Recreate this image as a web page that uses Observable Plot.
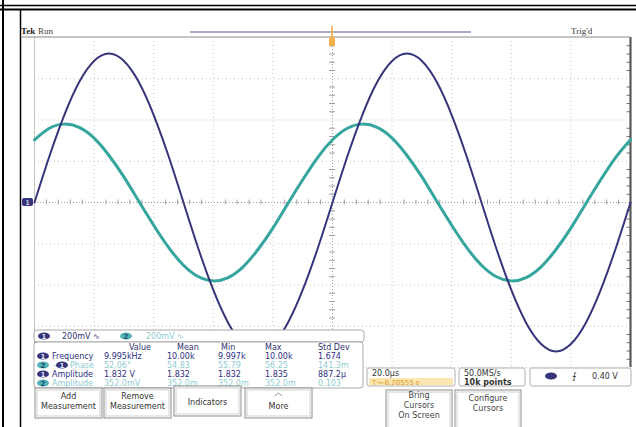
<!DOCTYPE html>
<html><head><meta charset="utf-8">
<script src="https://cdn.jsdelivr.net/npm/d3@7"></script>
<script src="https://cdn.jsdelivr.net/npm/@observablehq/plot@0.6"></script>
<style>body{margin:0;background:#fff;} #chart{width:636px;height:427px;overflow:hidden;}</style>
</head><body><div id="chart"></div>
<script>
// Time base: microseconds (20 µs/div), vertical: divisions
const time = [-100,-95,-90,-85,-80,-75,-70,-65,-60,-55,-50,-45,-40,-35,-30,-25,-20,-15,-10,-5,0,5,10,15,20,25,30,35,40,45,50,55,60,65,70,75,80,85,90,95,100];
const ch1 = [0,1.12,2.12,2.92,3.43,3.61,3.43,2.92,2.12,1.12,0,-1.12,-2.12,-2.92,-3.43,-3.61,-3.43,-2.92,-2.12,-1.12,
             0,1.12,2.12,2.92,3.43,3.61,3.43,2.92,2.12,1.12,0,-1.12,-2.12,-2.92,-3.43,-3.61,-3.43,-2.92,-2.12,-1.12,0];
const ch2 = [1.52,1.80,1.90,1.82,1.56,1.14,0.62,0.03,-0.55,-1.09,-1.52,-1.80,-1.90,-1.82,-1.56,-1.14,-0.62,-0.03,0.55,1.09,
             1.52,1.80,1.90,1.82,1.56,1.14,0.62,0.03,-0.55,-1.09,-1.52,-1.80,-1.90,-1.82,-1.56,-1.14,-0.62,-0.03,0.55,1.09,1.52];
const gridT = [-80,-60,-40,-20,20,40,60,80];
const gridV = [-4,-3,-2,-1,1,2,3];
const minorT = [-96,-92,-88,-84,-76,-72,-68,-64,-56,-52,-48,-44,-36,-32,-28,-24,-16,-12,-8,-4,4,8,12,16,24,28,32,36,44,48,52,56,64,68,72,76,84,88,92,96];
const minorV = [-3.8,-3.6,-3.4,-3.2,-2.8,-2.6,-2.4,-2.2,-1.8,-1.6,-1.4,-1.2,-0.8,-0.6,-0.4,-0.2,0.2,0.4,0.6,0.8,1.2,1.4,1.6,1.8,2.2,2.4,2.6,2.8,3.2,3.4,3.6,3.8];

const chScale = ["200mV ∿", "200mV ∿"];
const measHeaders = ["Value", "Mean", "Min", "Max", "Std Dev"];
const measNames = ["Frequency", "Phase", "Amplitude", "Amplitude"];
const measValue = ["9.995kHz", "52.06°", "1.832 V", "352.0mV"];
const measMean = ["10.00k", "54.83", "1.832", "352.0m"];
const measMin = ["9.997k", "55.79", "1.832", "352.0m"];
const measMax = ["10.00k", "56.25", "1.835", "352.0m"];
const measStd = ["1.674", "141.3m", "887.2µ", "0.103"];
const buttons = [["Add", "Measurement"], ["Remove", "Measurement"], ["Indicators"], ["More"]];
const cursorButtons = [["Bring", "Cursors", "On Screen"], ["Configure", "Cursors"]];
const horizInfo = ["20.0µs", "T→-6.20555 s"];
const acqInfo = ["50.0MS/s", "10k points"];
const trigInfo = "0.40 V";

const C1 = "#37357a", C2 = "#35a59e";

const plot = Plot.plot({
  width: 636, height: 427,
  marginLeft: 34, marginRight: 6, marginTop: 37, marginBottom: 60,
  x: {domain: [-100, 100], axis: null},
  y: {domain: [-4, 4], axis: null},
  style: {background: "#fff", overflow: "visible"},
  marks: [
    Plot.ruleX(gridT, {stroke: "#c2c2c2", strokeDasharray: "1,3"}),
    Plot.ruleY(gridV, {stroke: "#c2c2c2", strokeDasharray: "1,3"}),
    Plot.ruleY([0], {stroke: "#a0a0a0", strokeDasharray: "1,2"}),
    Plot.ruleX([0], {stroke: "#a0a0a0", strokeDasharray: "1,2"}),
    Plot.ruleX(minorT, {y1: -0.06, y2: 0.06, stroke: "#a0a0a0"}),
    Plot.ruleY(minorV, {x1: -1, x2: 1, stroke: "#a0a0a0"}),
    Plot.ruleY(minorV, {x1: 98.8, x2: 100, stroke: "#777"}),
    Plot.ruleX([-100], {stroke: "#c4c4c4"}),
    Plot.ruleX([100], {stroke: "#5a5a5a", strokeWidth: 2.2}),
    Plot.line(time, {x: d => d, y: (d, i) => ch2[i], stroke: C2, strokeWidth: 3, curve: "natural"}),
    Plot.line(time, {x: d => d, y: (d, i) => ch1[i], stroke: C1, strokeWidth: 2, curve: "natural"})
  ]
});
document.getElementById("chart").appendChild(plot);

const svg = d3.select(plot);
const ui = svg.append("g").attr("font-family", "DejaVu Sans, Liberation Sans, sans-serif");
function L(x1, y1, x2, y2, stroke, w) {
  ui.append("line").attr("x1", x1).attr("y1", y1).attr("x2", x2).attr("y2", y2)
    .attr("stroke", stroke).attr("stroke-width", w || 1);
}
function R(x, y, w, h, o) {
  o = o || {};
  ui.append("rect").attr("x", x).attr("y", y).attr("width", w).attr("height", h)
    .attr("rx", o.rx || 0).attr("fill", o.fill || "#fff").attr("stroke", o.stroke || "none")
    .attr("stroke-width", o.sw || 1);
}
function T(x, y, s, o) {
  o = o || {};
  ui.append("text").attr("x", x).attr("y", y).text(s)
    .attr("font-size", o.size || 8).attr("fill", o.fill || "#333")
    .attr("font-weight", o.weight || "normal")
    .attr("text-anchor", o.anchor || "start")
    .attr("font-family", o.family || null);
}
function pill(cx, cy, label, fill, tfill) {
  ui.append("ellipse").attr("cx", cx).attr("cy", cy).attr("rx", 6).attr("ry", 3.6).attr("fill", fill);
  T(cx, cy + 2.6, label, {size: 7, fill: tfill, anchor: "middle", weight: "bold"});
}

// outer document frame
L(0, 5.5, 636, 5.5, "#000", 1.5);
L(0, 9.5, 636, 9.5, "#000", 2.2);
L(3, 0, 3, 427, "#000", 2);
L(20.5, 10, 20.5, 427, "#000", 1.5);

// status line
T(21, 34, "Tek", {size: 9, weight: "bold", fill: "#222", family: "Liberation Serif, serif"});
T(38, 34, "Run", {size: 9, fill: "#444", family: "Liberation Serif, serif"});
T(571, 34, "Trig'd", {size: 9, fill: "#333", family: "Liberation Serif, serif"});
L(190, 32, 471, 32, "#8c90ad", 1.3);
L(22, 37, 630, 37, "#8a8a8a", 1.2);
// trigger position marker
L(332, 26, 332, 38, "#f0a63a", 1.5);
R(329, 37, 6, 9, {fill: "#f3b04a", rx: 1.5});
// ground marker ch1
R(22, 198, 11, 8, {fill: C1, rx: 2});
T(27.5, 204.5, "1", {size: 6.5, fill: "#cfd0ee", anchor: "middle", weight: "bold"});

// channel scale row
R(34, 330, 330, 12, {rx: 3, stroke: "#a9a9a9"});
pill(44, 336, "1", C1, "#dfe0f5");
T(62, 339, chScale[0], {fill: "#2e2f70"});
pill(126, 336, "2", "#53b3b8", "#1c4e66");
T(146, 339, chScale[1], {fill: "#8fcbd2"});

// measurement table
R(34, 342, 329, 46, {rx: 3, stroke: "#a9a9a9"});
const colX = [104, 167, 218, 265, 318];
const hdrX = [129, 177, 221, 265, 318];
measHeaders.forEach((h, i) => T(hdrX[i], 350, h, {fill: "#2e2f70"}));
const rowY = [359, 368, 377, 386];
const rowFill = ["#2d3080", "#8fcbd2", "#2d3080", "#8fcbd2"];
measNames.forEach((n, r) => {
  const y = rowY[r];
  if (r === 1) {
    pill(43, y - 3, "2", "#53b3b8", "#1c4e66");
    T(52, y, "→", {size: 7, fill: "#8fcbd2"});
    pill(62, y - 3, "1", C1, "#dfe0f5");
    T(70, y, n, {fill: rowFill[r]});
  } else {
    const two = r === 3;
    pill(43, y - 3, two ? "2" : "1", two ? "#53b3b8" : C1, two ? "#1c4e66" : "#dfe0f5");
    T(52, y, n, {fill: rowFill[r]});
  }
  [measValue, measMean, measMin, measMax, measStd].forEach((col, c) =>
    T(colX[c], y, col[r], {fill: rowFill[r]}));
});

// softkey buttons
const bx = [35, 104, 174, 245];
buttons.forEach((lines, i) => {
  const x = bx[i], w = 67;
  const top = i === 2 ? 386 : 388;
  R(x, top, w, 30, {stroke: "#8d8d8d"});
  R(x + 2, top + 2, w - 4, 26, {stroke: "#d0d0d0"});
  if (lines.length === 2) {
    T(x + w / 2, 399, lines[0], {anchor: "middle", fill: "#333"});
    T(x + w / 2, 409, lines[1], {anchor: "middle", fill: "#333"});
  } else if (i === 3) {
    L(x + w / 2 - 4, 396, x + w / 2, 393, "#999", 1);
    L(x + w / 2, 393, x + w / 2 + 4, 396, "#999", 1);
    T(x + w / 2, 409, lines[0], {anchor: "middle", fill: "#333"});
  } else {
    T(x + w / 2, 405, lines[0], {anchor: "middle", fill: "#333"});
  }
});
const cbx = [386, 455];
cursorButtons.forEach((lines, i) => {
  const x = cbx[i], w = 66;
  R(x, 390, w, 40, {stroke: "#8d8d8d"});
  R(x + 2, 392, w - 4, 38, {stroke: "#d0d0d0"});
  const y0 = lines.length === 3 ? 398 : 401;
  lines.forEach((s, j) => T(x + w / 2, y0 + j * 10, s, {anchor: "middle", fill: "#444"}));
});

// horizontal / acquisition / trigger readouts
R(367, 368, 88, 18, {rx: 2, stroke: "#b0b0b0"});
T(372, 376, horizInfo[0], {fill: "#333"});
R(369, 378, 84, 7, {fill: "#fbe6b0"});
T(372, 384.5, horizInfo[1], {fill: "#e09a2a", size: 7});
R(459, 368, 66, 18, {rx: 2, stroke: "#b0b0b0"});
T(464, 376, acqInfo[0], {fill: "#333"});
T(464, 385, acqInfo[1], {fill: "#333", weight: "bold"});
R(530, 368, 101, 18, {rx: 2, stroke: "#b0b0b0"});
ui.append("ellipse").attr("cx", 551).attr("cy", 376).attr("rx", 6).attr("ry", 3.6).attr("fill", C1);
T(572, 379, "⨍", {fill: "#333", size: 9});
T(592, 379, trigInfo, {fill: "#333"});
</script></body></html>
